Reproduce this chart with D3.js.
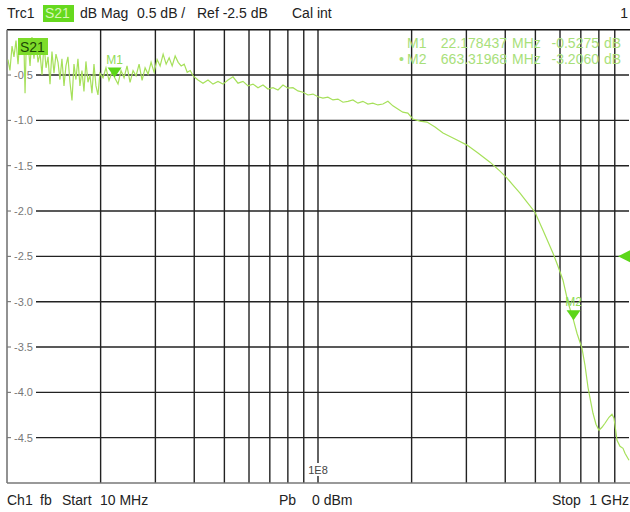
<!DOCTYPE html>
<html><head><meta charset="utf-8">
<script src="https://cdn.jsdelivr.net/npm/d3@7"></script>
<style>
html,body{margin:0;padding:0;background:#fff;}
svg{display:block;font-family:"Liberation Sans",Arial,sans-serif;}
text{white-space:pre;}
</style></head>
<body>
<div id="chart"></div>
<script>
// ---- data ----
const freqMHz = [
 10.07,10.22,10.38,10.53,10.69,10.85,11.01,11.17,11.34,11.43,11.51,11.68,11.86,12.03,12.21,12.39,12.58,12.77,12.96,13.15,13.35,13.55,13.75,13.95,14.16,14.37,14.59,14.80,15.02,15.25,15.47,15.70,15.94,16.18,16.42,16.66,16.91,17.16,17.42,17.68,17.94,18.21,18.48,18.76,19.04,19.32,19.61,19.90,
 20.36,20.81,21.28,21.76,22.18,22.75,23.26,23.79,24.32,24.87,25.43,26.00,26.59,27.19,27.80,28.42,29.06,29.72,30.39,31.07,31.77,32.49,33.22,33.97,34.73,35.52,36.31,37.13,37.97,38.83,39.70,
 41.13,42.68,44.29,45.96,47.69,49.49,51.36,53.29,55.30,57.39,59.55,61.80,64.13,66.54,69.05,71.66,74.36,77.16,80.07,83.09,86.22,89.47,92.84,96.35,100.0,
 103.7,107.6,111.7,115.9,120.3,124.8,129.5,134.4,139.4,144.7,150.1,155.8,161.7,167.8,174.1,180.6,187.4,194.5,201.8,
 212.8,224.1,237.8,252.3,275.8,301.4,326.9,357.3,384.8,405.3,423.7,446.2,469.9,498.6,529.0,569.7,591.1,613.4,636.5,663.3,680.4,706.1,721.9,738.1,754.7,766.0,783.1,800.7,818.7,837.1,862.2,881.6,894.8,901.5,915.0,935.5,956.6,970.8,1000
];
const s21dB = [
 -0.33,-0.45,-0.18,-0.30,-0.12,-0.38,-0.10,-0.27,-0.20,-0.70,-0.28,-0.15,-0.40,-0.08,-0.32,-0.10,-0.36,-0.26,-0.50,-0.15,-0.42,-0.30,-0.60,-0.24,-0.48,-0.27,-0.36,-0.55,-0.32,-0.62,-0.40,-0.30,-0.58,-0.78,-0.38,-0.55,-0.32,-0.62,-0.45,-0.68,-0.35,-0.58,-0.50,-0.70,-0.38,-0.62,-0.72,-0.48,
 -0.53,-0.42,-0.56,-0.47,-0.5275,-0.60,-0.45,-0.53,-0.40,-0.58,-0.45,-0.51,-0.38,-0.56,-0.42,-0.49,-0.36,-0.47,-0.33,-0.40,-0.27,-0.38,-0.31,-0.40,-0.29,-0.36,-0.40,-0.38,-0.47,-0.45,-0.51,
 -0.555,-0.59,-0.555,-0.60,-0.57,-0.60,-0.555,-0.52,-0.59,-0.57,-0.62,-0.60,-0.64,-0.61,-0.655,-0.64,-0.665,-0.61,-0.645,-0.64,-0.675,-0.69,-0.72,-0.71,-0.74,
 -0.755,-0.745,-0.775,-0.765,-0.80,-0.79,-0.775,-0.81,-0.79,-0.82,-0.81,-0.83,-0.82,-0.79,-0.84,-0.875,-0.91,-0.92,-0.985,
 -1.008,-1.019,-1.074,-1.140,-1.206,-1.273,-1.361,-1.461,-1.560,-1.637,-1.714,-1.803,-1.902,-2.013,-2.211,-2.465,-2.609,-2.763,-3.006,-3.206,-3.348,-3.514,-3.701,-3.944,-4.120,-4.231,-4.352,-4.418,-4.385,-4.341,-4.275,-4.242,-4.286,-4.363,-4.529,-4.595,-4.617,-4.672,-4.749
];
const gridFreqMHz = [20,30,40,50,60,70,80,90,100,200,300,400,500,600,700,800,900];
const yTickValues = [-0.5,-1.0,-1.5,-2.0,-2.5,-3.0,-3.5,-4.0,-4.5];
const yTickLabels = ["-0.5","-1.0","-1.5","-2.0","-2.5","-3.0","-3.5","-4.0","-4.5"];
const markerNames = ["M1","M2"];
const markerFreqMHz = [22.178437,663.31968];
const markerDB = [-0.5275,-3.2060];
const markerFreqText = ["22.178437","663.31968"];
const markerDBText = ["-0.5275","-3.2060"];
const refLevelDB = -2.5;
const decadeLabel = "1E8";

// ---- layout ----
const W = 630, H = 512;
const pLeft = 7, pRight = 629, pTop = 29.7, pBottom = 483;
const svg = d3.select("#chart").append("svg").attr("width", W).attr("height", H);
const x = d3.scaleLog().domain([10, 1000]).range([pLeft, pRight]);
const y = d3.scaleLinear().domain([-5, 0]).range([pBottom, pTop]);

const gridColor = "#222";
// vertical grid
svg.append("g").selectAll("line").data(gridFreqMHz).join("line")
  .attr("x1", d => x(d)).attr("x2", d => x(d))
  .attr("y1", pTop).attr("y2", d => d === 100 ? 463 : pBottom)
  .attr("stroke", gridColor).attr("stroke-width", 1.4);
// 1E8 label + tick
svg.append("text").attr("x", x(100)).attr("y", 474).attr("text-anchor", "middle")
  .attr("font-size", 11).attr("fill", "#444").text(decadeLabel);
svg.append("line").attr("x1", x(100)).attr("x2", x(100)).attr("y1", 476).attr("y2", pBottom)
  .attr("stroke", gridColor).attr("stroke-width", 1.4);

// horizontal grid
const hg = svg.append("g");
hg.selectAll("line.g").data(yTickValues).join("line").attr("class", "g")
  .attr("x1", 36).attr("x2", pRight).attr("y1", d => y(d)).attr("y2", d => y(d))
  .attr("stroke", gridColor).attr("stroke-width", 1.4);
hg.selectAll("line.t").data(yTickValues).join("line").attr("class", "t")
  .attr("x1", pLeft).attr("x2", 11).attr("y1", d => y(d)).attr("y2", d => y(d))
  .attr("stroke", "#666").attr("stroke-width", 1);
hg.selectAll("text").data(yTickValues).join("text")
  .attr("x", 14).attr("y", d => y(d) + 4).attr("font-size", 11).attr("fill", "#777")
  .text((d, i) => yTickLabels[i]);

// border
svg.append("line").attr("x1", pLeft).attr("x2", pRight + 1).attr("y1", pTop).attr("y2", pTop).attr("stroke", "#111").attr("stroke-width", 1.4);
svg.append("line").attr("x1", pLeft).attr("x2", pRight + 1).attr("y1", pBottom).attr("y2", pBottom).attr("stroke", "#777").attr("stroke-width", 1.6);
svg.append("line").attr("x1", pLeft).attr("x2", pLeft).attr("y1", pTop).attr("y2", pBottom).attr("stroke", "#777").attr("stroke-width", 1.6);

// trace
const pts = freqMHz.map((f, i) => [f, s21dB[i]]);
svg.append("path").datum(pts)
  .attr("d", d3.line().x(d => x(d[0])).y(d => y(d[1])))
  .attr("fill", "none").attr("stroke", "#a6e05a").attr("stroke-width", 1.2);

// on-plot S21 label
svg.append("rect").attr("x", 18).attr("y", 38).attr("width", 30).attr("height", 17).attr("fill", "#7ddc2a");
svg.append("text").attr("x", 20).attr("y", 52).attr("font-size", 14).attr("fill", "#1d4a05").text("S21");

// markers
markerNames.forEach((m, i) => {
  const mx = x(markerFreqMHz[i]), my = y(markerDB[i]);
  svg.append("path").attr("d", `M${mx - 7},${my - 10} L${mx + 7},${my - 10} L${mx},${my} Z`).attr("fill", "#5cd619");
  svg.append("text").attr("x", mx).attr("y", my - 14).attr("text-anchor", "middle")
    .attr("font-size", 12).attr("fill", "#8fdc55").text(m);
});

// ref level arrow
const ry = y(refLevelDB);
svg.append("path").attr("d", `M${pRight - 11},${ry} L${pRight + 1},${ry - 6} L${pRight + 1},${ry + 6} Z`).attr("fill", "#5cd619");

// marker info
const info = svg.append("g").attr("font-size", 14).attr("fill", "#a8e07a");
markerNames.forEach((m, i) => {
  const ty = 48 + i * 16;
  if (i === 1) info.append("text").attr("x", 399).attr("y", ty).text("•");
  info.append("text").attr("x", 407).attr("y", ty).text(m);
  info.append("text").attr("x", 507).attr("y", ty).attr("text-anchor", "end").text(markerFreqText[i]);
  info.append("text").attr("x", 512).attr("y", ty).text("MHz");
  info.append("text").attr("x", 599).attr("y", ty).attr("text-anchor", "end").text(markerDBText[i]);
  info.append("text").attr("x", 604).attr("y", ty).text("dB");
});

// header
const hdr = svg.append("g").attr("font-size", 14).attr("fill", "#222");
hdr.append("text").attr("x", 7).attr("y", 18).text("Trc1");
svg.append("rect").attr("x", 43).attr("y", 5).attr("width", 31).attr("height", 17).attr("fill", "#66d91e");
svg.append("text").attr("x", 45).attr("y", 18).attr("font-size", 14).attr("fill", "#d8f7b8").text("S21");
hdr.append("text").attr("x", 80).attr("y", 18).text("dB Mag");
hdr.append("text").attr("x", 137).attr("y", 18).text("0.5 dB /");
hdr.append("text").attr("x", 197).attr("y", 18).text("Ref -2.5 dB");
hdr.append("text").attr("x", 292).attr("y", 18).text("Cal int");
hdr.append("text").attr("x", 628).attr("y", 18).attr("text-anchor", "end").text("1");

// footer
const ftr = svg.append("g").attr("font-size", 14).attr("fill", "#222");
ftr.append("text").attr("x", 7).attr("y", 505).text("Ch1");
ftr.append("text").attr("x", 40).attr("y", 505).text("fb");
ftr.append("text").attr("x", 62).attr("y", 505).text("Start");
ftr.append("text").attr("x", 100).attr("y", 505).text("10 MHz");
ftr.append("text").attr("x", 279).attr("y", 505).text("Pb");
ftr.append("text").attr("x", 312).attr("y", 505).text("0 dBm");
ftr.append("text").attr("x", 552).attr("y", 505).text("Stop");
ftr.append("text").attr("x", 629).attr("y", 505).attr("text-anchor", "end").text("1 GHz");
</script>
</body></html>
